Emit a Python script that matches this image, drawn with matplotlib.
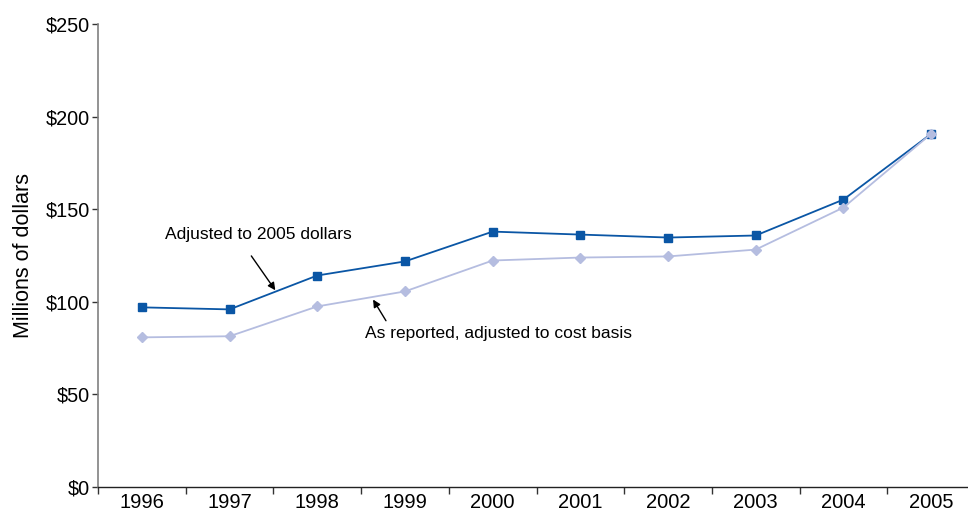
import numpy as np
import matplotlib.pyplot as plt
from matplotlib.ticker import FixedLocator, FuncFormatter

plt.rcParams['font.family'] = ['Liberation Sans', 'DejaVu Sans']

years = ['1996', '1997', '1998', '1999', '2000', '2001', '2002', '2003', '2004', '2005']
adjusted_2005 = [97.0, 95.9, 114.2, 121.8, 137.9, 136.3, 134.7, 135.8, 155.2, 190.7]
as_reported = [80.8, 81.4, 97.5, 105.6, 122.3, 123.9, 124.5, 128.2, 150.9, 190.7]

dark = '#0A56A5'
light = '#B5BDE0'

fig = plt.figure(figsize=(9.68, 5.12), dpi=100)
ax = fig.add_axes([98 / 968, 25 / 512, 877 / 968, 463 / 512])

x = np.arange(len(years))
ax.plot(x, as_reported, color=light, lw=1.3, marker='D', ms=5,
        mfc=light, mec=light, zorder=3)
ax.plot(x, adjusted_2005, color=dark, lw=1.3, marker='s', ms=6,
        mfc=dark, mec=dark, zorder=2)

ax.set_xlim(-0.5, len(years) - 0.5)
ax.set_ylim(0, 250)
ax.set_yticks(np.arange(0, 251, 50))
ax.yaxis.set_major_formatter(FuncFormatter(lambda v, p: f'${v:.0f}'))
ax.set_xticks(x)
ax.set_xticklabels(years)
ax.xaxis.set_minor_locator(FixedLocator(np.arange(-0.5, len(years), 1.0)))
ax.tick_params(axis='x', which='major', length=0, labelsize=14.5, pad=4)
ax.tick_params(axis='x', which='minor', length=5, width=1, color='#333333')
ax.tick_params(axis='y', length=4, width=1, color='#333333', labelsize=14.3, pad=2)

for s in ['top', 'right']:
    ax.spines[s].set_visible(False)
ax.spines['left'].set_color('#808080')
ax.spines['left'].set_linewidth(1.2)
ax.spines['bottom'].set_color('#222222')
ax.spines['bottom'].set_linewidth(1.0)

ax.set_ylabel('Millions of dollars', fontsize=15.5)
ax.yaxis.set_label_coords(-0.073, 0.5)

ax.annotate('', xy=(1.54, 105), xytext=(1.23, 126),
            arrowprops=dict(arrowstyle='-|>', color='black', lw=1, mutation_scale=11))
ax.text(0.26, 136.5, 'Adjusted to 2005 dollars', fontsize=12.5, va='center', ha='left')
ax.annotate('', xy=(2.62, 102.5), xytext=(2.80, 88.5),
            arrowprops=dict(arrowstyle='-|>', color='black', lw=1, mutation_scale=11))
ax.text(2.54, 83.0, 'As reported, adjusted to cost basis', fontsize=12.5, va='center', ha='left')

fig.savefig('out.png', dpi=100)
